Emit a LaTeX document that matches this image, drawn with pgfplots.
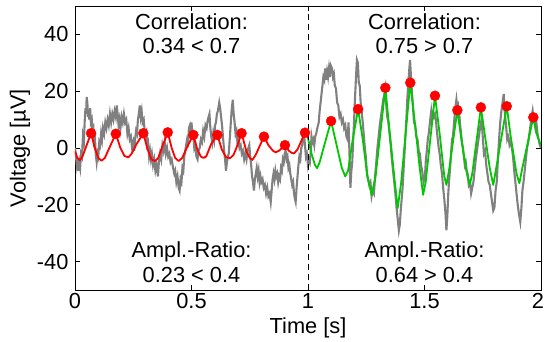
\documentclass[border=0pt]{standalone}
\usepackage{fontspec}
\setmainfont{Liberation Sans}
\usepackage{pgfplots}
\pgfplotsset{compat=1.18}
\definecolor{mgray}{RGB}{128,128,128}
\definecolor{mgreen}{RGB}{0,200,0}
\definecolor{mred}{RGB}{255,0,0}
\newcommand{\bigf}{\fontsize{21.8}{25}\selectfont}
\begin{document}
\begin{tikzpicture}
\path[use as bounding box] (-75pt,-51pt) rectangle (470pt,290pt);
\begin{axis}[
 scale only axis, width=466pt, height=284pt,
 xmin=0,xmax=2,ymin=-50,ymax=50,
 xtick={0,0.5,1,1.5,2}, xticklabels={0,0.5,1,1.5,{\kern-6pt 2}},
 ytick={-40,-20,0,20,40},
 tick align=inside, major tick length=5pt,
 /pgf/number format/assume math mode=true,
 tick label style={font=\bigf},
 label style={font=\bigf},
 xlabel={Time [s]}, ylabel={Voltage [µV]},
 xlabel style={at={(axis description cs:0.5,-0.134)}, anchor=center},
 ylabel style={at={(axis description cs:-0.118,0.5)}, anchor=center},
 yticklabel style={xshift=-3pt},
 axis line style={line width=0.8pt},
 every tick/.style={black, line width=0.8pt},
 clip=true,
]
\addplot[mgray, line width=2.1pt] coordinates {
(0.000,0) (0.004,-3) (0.008,-6) (0.011,-4) (0.014,-8) (0.018,-5) (0.022,-7) (0.026,-2) (0.030,-3) (0.034,4) (0.038,2) (0.042,10) (0.045,14) (0.048,12) (0.050,18) (0.053,16) (0.056,11) (0.058,13) (0.061,10) (0.065,14) (0.068,9) (0.072,10) (0.075,6) (0.079,7) (0.082,2) (0.086,3) (0.089,-2) (0.093,-5) (0.097,-2) (0.100,-3) (0.104,2) (0.108,1) (0.112,5) (0.116,3) (0.120,7) (0.125,5) (0.130,9) (0.135,7) (0.140,10) (0.145,8) (0.150,12) (0.155,9) (0.160,12) (0.165,10) (0.170,13) (0.175,11) (0.179,15) (0.183,12) (0.187,8) (0.191,10) (0.195,7) (0.200,11) (0.205,9) (0.210,12) (0.215,9) (0.220,10) (0.225,5) (0.230,7) (0.235,3) (0.240,4) (0.245,0) (0.250,2) (0.254,-1) (0.258,3) (0.262,6) (0.266,5) (0.270,10) (0.274,12) (0.278,15) (0.282,11) (0.286,13) (0.290,9) (0.295,10) (0.300,5) (0.306,6) (0.310,1) (0.314,2) (0.318,-3) (0.322,-1) (0.326,-4) (0.330,-2) (0.335,-6) (0.340,-4) (0.345,-8) (0.350,-6) (0.356,-10) (0.360,-5) (0.365,-2) (0.370,-4) (0.375,1) (0.380,-1) (0.385,2) (0.390,-2) (0.395,0) (0.400,-3) (0.405,-2) (0.410,-5) (0.415,-4) (0.421,-7) (0.426,-9) (0.430,-8) (0.435,-12) (0.440,-10) (0.445,-14) (0.449,-15) (0.453,-11) (0.457,-12) (0.461,-7) (0.465,-8) (0.469,-3) (0.473,-1) (0.477,1) (0.481,3) (0.485,2) (0.489,7) (0.493,8) (0.497,6) (0.500,9) (0.504,5) (0.508,4) (0.512,0) (0.516,1) (0.521,-3) (0.526,-4) (0.530,-1) (0.535,0) (0.540,3) (0.545,2) (0.550,6) (0.555,4) (0.560,8) (0.565,7) (0.570,10) (0.577,12) (0.581,7) (0.585,4) (0.589,2) (0.593,5) (0.597,3) (0.601,8) (0.605,9) (0.609,12) (0.613,13) (0.619,16) (0.623,14) (0.627,11) (0.631,8) (0.635,4) (0.640,-1) (0.644,-4) (0.648,-8) (0.652,-5) (0.656,-3) (0.660,-2) (0.664,3) (0.668,8) (0.672,13) (0.677,17) (0.681,12) (0.685,9) (0.689,5) (0.693,6) (0.697,2) (0.701,3) (0.706,0) (0.711,1) (0.716,-2) (0.721,-1) (0.726,-4) (0.731,-2) (0.736,-4) (0.740,-1) (0.744,0) (0.748,1) (0.752,-3) (0.756,-6) (0.760,-10) (0.764,-12) (0.768,-15) (0.772,-11) (0.776,-9) (0.780,-7) (0.784,-10) (0.788,-8) (0.792,-12) (0.796,-10) (0.800,-12) (0.805,-11) (0.810,-14) (0.815,-13) (0.820,-16) (0.825,-14) (0.830,-17) (0.835,-16) (0.840,-19) (0.844,-15) (0.848,-11) (0.852,-9) (0.856,-11) (0.860,-8) (0.864,-10) (0.868,-9) (0.872,-12) (0.876,-10) (0.880,-11) (0.884,-7) (0.888,-8) (0.892,-4) (0.896,-5) (0.900,-2) (0.904,-1) (0.908,-4) (0.912,-3) (0.916,-7) (0.920,-6) (0.924,-9) (0.928,-11) (0.932,-13) (0.936,-12) (0.940,-16) (0.944,-18) (0.947,-19) (0.951,-14) (0.955,-10) (0.959,-6) (0.963,-3) (0.967,-4) (0.971,0) (0.975,1) (0.979,4) (0.983,5) (0.987,1) (0.991,-3) (0.995,-2) (1.000,-6) (1.004,-4) (1.008,-5) (1.012,-1) (1.015,4) (1.019,2) (1.023,3) (1.027,1) (1.031,4) (1.035,5) (1.040,7) (1.046,9) (1.050,13) (1.054,16) (1.058,19) (1.062,22) (1.066,25) (1.070,24) (1.074,28) (1.078,24) (1.082,27) (1.086,25) (1.090,28) (1.094,25) (1.098,29) (1.103,28) (1.107,25) (1.111,26) (1.115,22) (1.120,21) (1.125,16) (1.130,15) (1.135,11) (1.140,12) (1.145,9) (1.150,10) (1.155,7) (1.160,8) (1.165,4) (1.170,3) (1.174,9) (1.178,-2) (1.182,-14) (1.186,-8) (1.190,-5) (1.194,3) (1.198,10) (1.202,18) (1.206,25) (1.210,31) (1.214,30) (1.218,23) (1.222,22) (1.226,16) (1.230,13) (1.235,9) (1.240,4) (1.244,0) (1.248,-3) (1.253,-9) (1.258,-11) (1.263,-13) (1.268,-12) (1.273,-17) (1.278,-15) (1.283,-16) (1.288,-10) (1.293,-5) (1.298,0) (1.303,4) (1.308,8) (1.313,11) (1.318,14) (1.323,17) (1.328,19) (1.332,21) (1.336,15) (1.340,11) (1.345,9) (1.350,5) (1.355,1) (1.360,-4) (1.365,-8) (1.370,-12) (1.375,-16) (1.380,-21) (1.385,-25) (1.390,-29) (1.394,-27) (1.398,-22) (1.402,-18) (1.406,-14) (1.410,-8) (1.414,-2) (1.418,4) (1.422,10) (1.426,17) (1.430,22) (1.434,27) (1.438,31) (1.442,25) (1.446,20) (1.450,15) (1.455,9) (1.460,8) (1.465,4) (1.470,3) (1.475,-1) (1.480,-2) (1.485,-6) (1.490,-8) (1.496,-12) (1.502,-10) (1.506,-4) (1.510,-1) (1.514,3) (1.518,5) (1.522,8) (1.526,11) (1.529,13) (1.533,10) (1.537,12) (1.541,11) (1.545,12) (1.549,10) (1.553,6) (1.557,3) (1.561,0) (1.565,-2) (1.570,-6) (1.575,-9) (1.580,-14) (1.585,-18) (1.590,-23) (1.594,-29) (1.598,-24) (1.602,-16) (1.606,-11) (1.610,-7) (1.614,-2) (1.618,3) (1.622,4) (1.626,8) (1.630,12) (1.634,15) (1.637,17) (1.641,14) (1.645,15) (1.649,12) (1.653,8) (1.657,5) (1.661,2) (1.665,0) (1.669,-3) (1.673,-6) (1.677,-5) (1.681,-8) (1.685,-9) (1.690,-13) (1.695,-12) (1.700,-16) (1.705,-14) (1.710,-12) (1.715,-8) (1.720,-4) (1.725,-1) (1.730,2) (1.735,5) (1.740,8) (1.745,10) (1.750,4) (1.755,-2) (1.760,-1) (1.765,-6) (1.770,-9) (1.775,-12) (1.780,-13) (1.785,-16) (1.790,-19) (1.795,-22) (1.800,-21) (1.805,-15) (1.810,-12) (1.815,-4) (1.820,3) (1.825,9) (1.830,13) (1.835,16) (1.840,19) (1.845,12) (1.850,8) (1.855,3) (1.860,4) (1.865,1) (1.870,2) (1.875,0) (1.880,-3) (1.885,-8) (1.890,-12) (1.895,-16) (1.900,-20) (1.905,-23) (1.911,-26) (1.916,-21) (1.920,-15) (1.925,-12) (1.930,-8) (1.935,-4) (1.940,0) (1.945,2) (1.950,5) (1.955,8) (1.960,11) (1.964,13) (1.968,10) (1.972,9) (1.976,7) (1.980,9) (1.985,5) (1.990,3) (1.995,1) (2.000,0)
};
\addplot[mred, line width=1.8pt, line join=round] coordinates {
(0.000,-1) (0.010,-3.5) (0.021,-4.3) (0.032,-3) (0.050,1) (0.069,5.2) (0.085,0) (0.100,-3.5) (0.114,-4.5) (0.128,-3.5) (0.150,0.5) (0.175,5) (0.195,0) (0.212,-2.8) (0.229,-3.3) (0.243,-2) (0.265,1.5) (0.293,5.2) (0.310,0) (0.328,-4) (0.343,-4.6) (0.357,-3.5) (0.375,0.5) (0.398,5.5) (0.415,0) (0.430,-3.5) (0.445,-4.6) (0.460,-3.5) (0.485,1) (0.508,4.6) (0.525,-0.5) (0.540,-3) (0.551,-3.5) (0.563,-3) (0.585,1.5) (0.611,4.6) (0.630,-0.5) (0.648,-3.2) (0.665,-3.6) (0.680,-2.5) (0.695,0.5) (0.715,5.2) (0.735,-1) (0.750,-3.5) (0.761,-4.2) (0.775,-2.5) (0.811,4.0) (0.830,1) (0.850,-1) (0.861,-1.5) (0.875,-1) (0.901,1.0) (0.918,-1) (0.930,-1.7) (0.940,-1.9) (0.955,-0.5) (0.987,5.4) (1.000,3.4)
};
\addplot[mgreen, line width=1.8pt, line join=round] coordinates {
(1.000,3.4) (1.015,-2) (1.030,-6) (1.039,-7.1) (1.050,-5) (1.070,1) (1.099,9.5) (1.120,2) (1.145,-7) (1.160,-10) (1.172,-8) (1.190,2) (1.215,13.7) (1.235,3) (1.255,-10) (1.273,-16.5) (1.290,-10) (1.332,21.2) (1.350,6) (1.370,-10) (1.385,-21.2) (1.400,-12) (1.439,23) (1.460,8) (1.478,-6) (1.494,-16.5) (1.505,-12) (1.545,18.4) (1.565,5) (1.585,-10) (1.594,-13) (1.605,-8) (1.641,13.3) (1.660,2) (1.682,-9) (1.694,-13) (1.705,-9) (1.742,14.3) (1.760,4) (1.780,-7) (1.795,-13) (1.810,-6) (1.853,14.7) (1.870,4) (1.895,-9) (1.907,-12.4) (1.920,-7) (1.967,10.8) (1.985,4) (2.000,1)
};
\addplot[only marks, mark=*, mark size=5pt, mred, mark options={draw=mred, fill=mred}] coordinates {
(0.069,5.2) (0.175,5.0) (0.293,5.2) (0.398,5.5) (0.508,4.6) (0.611,4.6) (0.715,5.2) (0.811,4.0) (0.901,1.0) (0.987,5.4)
(1.099,9.5) (1.215,13.7) (1.332,21.2) (1.439,23.0) (1.545,18.4) (1.641,13.3) (1.742,14.3) (1.853,14.7) (1.967,10.8)
};
\addplot[black, line width=0.8pt, dash pattern=on 6pt off 4pt] coordinates {(1,-50) (1,50)};
\node[anchor=base, font=\bigf] at (axis cs:0.5,41.6) {Correlation:};
\node[anchor=base, font=\bigf] at (axis cs:0.5,33.2) {0.34 < 0.7};
\node[anchor=base, font=\bigf] at (axis cs:1.5,41.6) {Correlation:};
\node[anchor=base, font=\bigf] at (axis cs:1.5,33.2) {0.75 > 0.7};
\node[anchor=base, font=\bigf] at (axis cs:0.5,-38.4) {Ampl.-Ratio:};
\node[anchor=base, font=\bigf] at (axis cs:0.5,-47.3) {0.23 < 0.4};
\node[anchor=base, font=\bigf] at (axis cs:1.5,-38.4) {Ampl.-Ratio:};
\node[anchor=base, font=\bigf] at (axis cs:1.5,-47.3) {0.64 > 0.4};
\end{axis}
\end{tikzpicture}
\end{document}
